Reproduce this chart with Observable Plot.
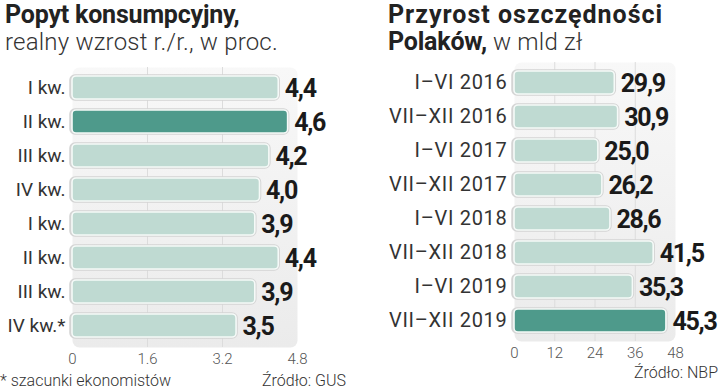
<!DOCTYPE html>
<html>
<head>
<meta charset="utf-8">
<script src="https://cdn.jsdelivr.net/npm/d3@7"></script>
<script src="https://cdn.jsdelivr.net/npm/@observablehq/plot@0.6"></script>
<style>
  html, body { margin: 0; padding: 0; background: #fff; }
  #root { position: relative; width: 720px; height: 391px; overflow: hidden; font-family: Roboto, "Noto Sans", sans-serif; color: #222; }
  .abs { position: absolute; }
  .title { font-size: 25px; line-height: 27px; letter-spacing: -0.2px; white-space: nowrap; }
  .b { font-weight: 700; color: #222; }
  .l { font-weight: 300; color: #333; letter-spacing: 0.2px; font-size: 24px; }
  .foot { font-size: 16px; font-weight: 300; color: #333; white-space: nowrap; }
  svg { overflow: visible; }
  text.val { font-family: Roboto, sans-serif; font-weight: 700; letter-spacing: -1.3px; }
  .rl text { letter-spacing: 0.7px; }
</style>
</head>
<body>
<div id="root">
  <div class="abs title" style="left:5px; top:1px;"><span class="b">Popyt konsumpcyjny,</span><br><span class="l">realny wzrost r./r., w proc.</span></div>
  <div class="abs title" style="left:388px; top:1px;"><span class="b" style="letter-spacing:1px">Przyrost oszczędności</span><br><span class="b">Polaków,</span><span class="l"> w mld zł</span></div>
  <div id="left" class="abs" style="left:0; top:0;"></div>
  <div id="right" class="abs" style="left:360px; top:0;"></div>
  <div class="abs foot" style="left:0px; top:371px;">* szacunki ekonomistów</div>
  <div class="abs foot" style="left:262px; top:371px;">Źródło: GUS</div>
  <div class="abs foot" style="right:2px; top:363px;">Źródło: NBP</div>
</div>
<script>
const leftCats = ["I kw.", "II kw.", "III kw.", "IV kw.", "I kw.", "II kw.", "III kw.", "IV kw.*"];
const leftVals = [4.4, 4.6, 4.2, 4.0, 3.9, 4.4, 3.9, 3.5];
const leftHighlight = 1;
const leftTicks = [0, 1.6, 3.2, 4.8];

const rightCats = ["I–VI 2016", "VII–XII 2016", "I–VI 2017", "VII–XII 2017", "I–VI 2018", "VII–XII 2018", "I–VI 2019", "VII–XII 2019"];
const rightVals = [29.9, 30.9, 25.0, 26.2, 28.6, 41.5, 35.3, 45.3];
const rightHighlight = 7;
const rightTicks = [0, 12, 24, 36, 48];

const LIGHT = "#bfdad2", DARK = "#4e9a8b";

function gradDefs(id) {
  return () => {
    const d = d3.create("svg:defs");
    const g = d.append("linearGradient").attr("id", id)
      .attr("x1", 0).attr("y1", 0).attr("x2", 0).attr("y2", 1);
    g.append("stop").attr("offset", "0%").attr("stop-color", "#f8f8f8");
    g.append("stop").attr("offset", "100%").attr("stop-color", "#ebebeb");
    return d.node();
  };
}

function makeChart({cats, vals, hi, ticks, domain, width, marginLeft, marginRight, marginTop, marginBottom, gid, labelSize, labelClass}) {
  const data = vals.map((v, i) => ({i, v, hi: i === hi}));
  const chart = Plot.plot({
    width, height: 391,
    marginLeft, marginRight, marginTop, marginBottom,
    style: {fontFamily: "Roboto, sans-serif", background: "transparent", overflow: "visible"},
    x: {domain, axis: null},
    y: {domain: d3.range(cats.length), paddingInner: 0.32, paddingOuter: 0.17, axis: null},
    marks: [
      gradDefs(gid),
      Plot.frame({fill: `url(#${gid})`, stroke: null, rx: 7}),
      Plot.ruleX(ticks.slice(1, -1), {stroke: "#dcdcdc", strokeWidth: 1}),
      Plot.axisX(ticks, {tickSize: 0, tickPadding: 6, tickFormat: d => String(d), fontSize: 15, fontWeight: 300, fill: "#555", label: null}),
      Plot.axisY(d3.range(cats.length), {tickSize: 0, tickPadding: 7, tickFormat: i => cats[i], fontSize: labelSize, fill: "#333", label: null}),
      Plot.barX(data, {x: "v", y: "i", rx: 4, fill: "none", stroke: "#d4d4d4", strokeWidth: 3.5, insetLeft: -1}),
      Plot.barX(data, {x: "v", y: "i", rx: 4, fill: d => d.hi ? DARK : LIGHT, stroke: "#f5faf8", strokeWidth: 1.6}),
      Plot.text(data, {x: "v", y: "i", text: d => d.v.toFixed(1).replace(".", ","), dx: 6, dy: 1, textAnchor: "start",
        fontSize: 25, fontWeight: 700, fill: "#1a1a1a"})
    ]
  });
  d3.select(chart).selectAll("g[aria-label='text'] text").classed("val", true);
  if (labelClass) d3.select(chart).select("g[aria-label='y-axis tick label']").classed(labelClass, true);
  return chart;
}

document.getElementById("left").append(makeChart({
  cats: leftCats, vals: leftVals, hi: leftHighlight, ticks: leftTicks, domain: [0, 4.8],
  width: 360, marginLeft: 72, marginRight: 63, marginTop: 67, marginBottom: 44, gid: "gl", labelSize: 19
}));
document.getElementById("right").append(makeChart({
  cats: rightCats, vals: rightVals, hi: rightHighlight, ticks: rightTicks, domain: [0, 48],
  width: 360, marginLeft: 154, marginRight: 45, marginTop: 62, marginBottom: 50, gid: "gr", labelSize: 20, labelClass: "rl"
}));
</script>
</body>
</html>
